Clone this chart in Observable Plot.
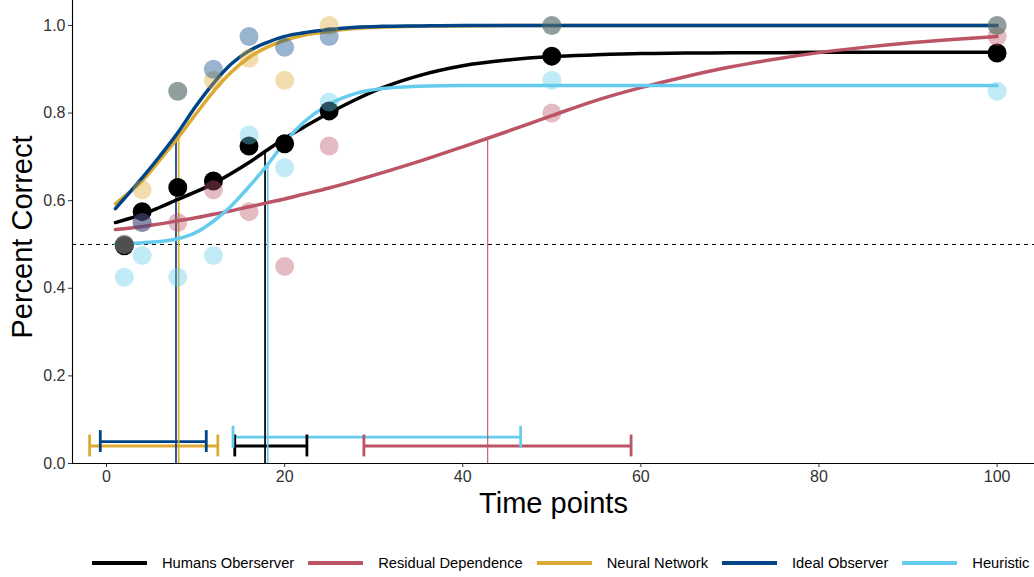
<!DOCTYPE html>
<html><head><meta charset="utf-8">
<script src="https://cdn.jsdelivr.net/npm/d3@7"></script>
<script src="https://cdn.jsdelivr.net/npm/@observablehq/plot@0.6"></script>
<style>
body{margin:0;background:#fff;font-family:"Liberation Sans",Arial,sans-serif;overflow:hidden;width:1034px;height:577px;position:relative}
#chart{position:absolute;left:0;top:0}
#legend{position:absolute;left:92px;top:553px;height:20px;display:flex;align-items:center;white-space:nowrap;font-size:14.7px;color:#000}
.item{display:flex;align-items:center;margin-right:14px}
.sw{width:55px;height:4px;margin-right:15px}
</style></head><body>
<div id="chart"></div><div id="legend"></div>
<script>
// ---- data ----
const seriesNames = ["Humans Oberserver", "Residual Dependence", "Neural Network", "Ideal Observer", "Heuristic"];
const seriesColors = ["#000000", "#BB5566", "#DDAA33", "#004488", "#66CCEE"];

const timePoints = [2, 4, 8, 12, 16, 20, 25, 50, 100];
const humanObs     = [0.497, 0.575, 0.63, 0.645, 0.725, 0.73, 0.805, 0.93, 0.937];
const residualObs  = [0.5, 0.55, 0.55, 0.625, 0.575, 0.45, 0.725, 0.8, 0.975];
const neuralObs    = [0.5, 0.625, 0.85, 0.875, 0.925, 0.875, 1.0, 1.0, 1.0];
const idealObs     = [0.5, 0.55, 0.85, 0.9, 0.975, 0.95, 0.975, 1.0, 1.0];
const heuristicObs = [0.425, 0.475, 0.425, 0.475, 0.75, 0.675, 0.825, 0.875, 0.85];

const fitX = [1, 2, 4, 6, 8, 10, 12, 14, 16, 18, 20, 22, 25, 28, 31, 35, 40, 45, 50, 55, 60, 65, 70, 75, 80, 85, 90, 95, 100];
const humanFit     = [0.550, 0.556, 0.568, 0.585, 0.603, 0.620, 0.639, 0.662, 0.687, 0.715, 0.742, 0.766, 0.800, 0.831, 0.858, 0.885, 0.908, 0.921, 0.929, 0.933, 0.936, 0.937, 0.938, 0.938, 0.939, 0.939, 0.939, 0.939, 0.939];
const residualFit  = [0.534, 0.536, 0.541, 0.547, 0.554, 0.561, 0.569, 0.577, 0.586, 0.595, 0.604, 0.614, 0.629, 0.646, 0.664, 0.689, 0.723, 0.758, 0.794, 0.829, 0.858, 0.883, 0.905, 0.923, 0.938, 0.950, 0.960, 0.968, 0.975];
const neuralFit    = [0.593, 0.610, 0.645, 0.693, 0.743, 0.797, 0.849, 0.893, 0.927, 0.950, 0.966, 0.977, 0.987, 0.993, 0.996, 0.998, 0.999, 1, 1, 1, 1, 1, 1, 1, 1, 1, 1, 1, 1];
const idealFit     = [0.582, 0.605, 0.652, 0.702, 0.755, 0.815, 0.868, 0.912, 0.942, 0.961, 0.975, 0.983, 0.991, 0.996, 0.998, 0.999, 1, 1, 1, 1, 1, 1, 1, 1, 1, 1, 1, 1, 1];
const heuristicFit = [0.501, 0.502, 0.504, 0.507, 0.513, 0.527, 0.553, 0.588, 0.632, 0.680, 0.733, 0.776, 0.820, 0.845, 0.856, 0.861, 0.863, 0.863, 0.863, 0.863, 0.863, 0.863, 0.863, 0.863, 0.863, 0.863, 0.863, 0.863, 0.863];

const thresholdX = [17.8, 42.8, 8.1, 7.8, 18.1];
const thresholdY = [0.714, 0.745, 0.745, 0.745, 0.68];
const ciLow  = [14.4, 28.9, -1.9, -0.7, 14.2];
const ciHigh = [22.5, 58.9, 12.5, 11.2, 46.5];
const ciY    = [0.04, 0.04, 0.04, 0.05, 0.06];

const xTicks = [0, 20, 40, 60, 80, 100];
const yTicks = [0, 0.2, 0.4, 0.6, 0.8, 1.0];
const chanceLevel = 0.5;

// ---- build tables ----
const observed = [humanObs, residualObs, neuralObs, idealObs, heuristicObs];
const fitted = [humanFit, residualFit, neuralFit, idealFit, heuristicFit];
const points = seriesNames.flatMap((s, i) => timePoints.map((t, j) => ({series: s, x: t, y: observed[i][j]})));
const fits = seriesNames.flatMap((s, i) => fitX.map((t, j) => ({series: s, x: t, y: fitted[i][j]})));
const thresholds = seriesNames.map((s, i) => ({series: s, x: thresholdX[i], y: thresholdY[i]}));
const cis = seriesNames.map((s, i) => ({series: s, lo: ciLow[i], hi: ciHigh[i], y: ciY[i]}));

const xDomain = [-3.82, 104.2];
const cap = 0.025;
const font = "'Liberation Sans', Arial, sans-serif";

const chart = Plot.plot({
  width: 1034, height: 530,
  marginLeft: 72, marginRight: 0, marginTop: 0, marginBottom: 67,
  style: {fontFamily: font, background: "white", overflow: "visible"},
  x: {domain: xDomain},
  y: {domain: [0, 1.057]},
  color: {domain: seriesNames, range: seriesColors},
  marks: [
    Plot.ruleY([chanceLevel], {stroke: "#000", strokeWidth: 1, strokeDasharray: "4,4"}),
    Plot.ruleY(cis, {y: "y", x1: "lo", x2: "hi", stroke: "series", strokeWidth: 2.8}),
    Plot.ruleX(cis, {x: "lo", y1: d => d.y - cap, y2: d => d.y + cap, stroke: "series", strokeWidth: 2.8}),
    Plot.ruleX(cis, {x: "hi", y1: d => d.y - cap, y2: d => d.y + cap, stroke: "series", strokeWidth: 2.8}),
    Plot.ruleX(thresholds.filter(d => d.series !== "Residual Dependence"), {x: "x", y1: 0, y2: "y", stroke: "series", strokeWidth: 1.7}),
    Plot.ruleX(thresholds.filter(d => d.series === "Residual Dependence"), {x: "x", y1: 0, y2: "y", stroke: "series", strokeWidth: 1.1}),
    Plot.line(fits, {x: "x", y: "y", z: "series", stroke: "series", strokeWidth: 3.5, curve: "monotone-x"}),
    Plot.dot(points, {x: "x", y: "y", r: 9.5, fill: "series", fillOpacity: d => d.series === "Humans Oberserver" ? 1 : 0.4, stroke: null}),
    Plot.ruleY([0], {stroke: "#000", strokeWidth: 1.1}),
    Plot.ruleX([xDomain[0]], {stroke: "#000", strokeWidth: 1.1}),
    Plot.axisX({ticks: xTicks, tickSize: 4, tickPadding: 3, fontSize: 16, label: null, color: "#333"}),
    Plot.axisY({ticks: yTicks, tickFormat: d => d.toFixed(1), tickSize: 4, tickPadding: 3, fontSize: 16, label: null, color: "#333"}),
    Plot.text(["Time points"], {text: d => d, frameAnchor: "bottom", lineAnchor: "middle", dy: 40, fontSize: 29, fill: "#000"}),
    Plot.text(["Percent Correct"], {text: d => d, frameAnchor: "left", textAnchor: "middle", lineAnchor: "middle", dx: -50, dy: 5, rotate: -90, fontSize: 29, fill: "#000"})
  ]
});
document.getElementById("chart").appendChild(chart);

const legend = document.getElementById("legend");
seriesNames.forEach((s, i) => {
  const item = document.createElement("div");
  item.className = "item";
  const sw = document.createElement("div");
  sw.className = "sw";
  sw.style.background = seriesColors[i];
  const lab = document.createElement("span");
  lab.textContent = s;
  item.appendChild(sw);
  item.appendChild(lab);
  legend.appendChild(item);
});
</script></body></html>
